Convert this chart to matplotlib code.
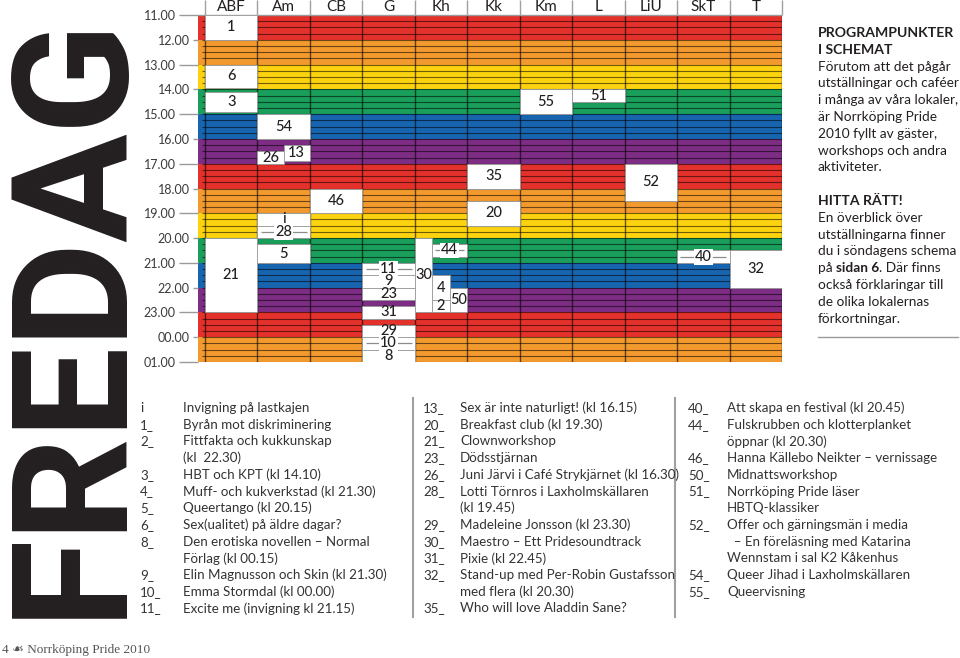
import matplotlib
matplotlib.use("Agg")
import matplotlib.pyplot as plt
import numpy as np

# ---------------- data ----------------
venues = ["ABF", "Am", "CB", "G", "Kh", "Kk", "Km", "L", "LiU", "SkT", "T"]
hour_ticks = list(range(11, 26))
hour_labels = ["11.00", "12.00", "13.00", "14.00", "15.00", "16.00", "17.00", "18.00",
               "19.00", "20.00", "21.00", "22.00", "23.00", "00.00", "01.00"]
band_hours = list(range(11, 25))
band_colors = ["#E4312B", "#F39A2E", "#FDD20E", "#1A9E5B", "#1765AF", "#7D2D84"]

ev_label = ["1", "6", "3", "54", "13", "26", "35", "52", "46", "20", "i", "28",
            "21", "5", "30", "44", "40", "32", "11", "9", "4", "2", "50", "23",
            "31", "29", "10", "8", "55", "51"]
ev_venue = ["ABF", "ABF", "ABF", "Am", "Am", "Am", "Kk", "LiU", "CB", "Kk", "Am", "Am",
            "ABF", "Am", "Kh", "Kh", "SkT", "T", "G", "G", "Kh", "Kh", "Kh", "G",
            "G", "G", "G", "G", "Km", "L"]
ev_sub0 = [0, 0, 0, 0, 0.5, 0, 0, 0, 0, 0, 0, 0,
           0, 0, 0, 1/3, 0, 0, 0, 0, 1/3, 1/3, 2/3, 0,
           0, 0, 0, 0, 0, 0]
ev_subw = [1, 1, 1, 1, 0.5, 0.5, 1, 1, 1, 1, 1, 1,
           1, 1, 1/3, 2/3, 1, 1, 1, 1, 1/3, 1/3, 1/3, 1,
           1, 1, 1, 1, 1, 1]
ev_start = [11.0, 13.0, 14.1, 15.0, 16.25, 16.5, 17.0, 17.0, 18.0, 18.5, 19.0, 19.5,
            20.0, 20.25, 20.0, 20.25, 20.5, 20.5, 21.0, 21.5, 21.5, 22.5, 22.0, 22.0,
            22.75, 23.5, 24.0, 24.5, 14.0, 14.0]
ev_end = [12.0, 13.95, 14.9, 16.0, 16.9, 17.0, 18.0, 18.5, 19.0, 19.5, 19.5, 20.0,
          23.0, 21.0, 23.0, 20.75, 21.0, 22.0, 21.5, 22.0, 22.5, 23.0, 23.0, 22.5,
          23.25, 24.0, 24.5, 25.0, 15.0, 14.5]
ev_midline = ["28", "44", "40", "11", "10"]

legend1 = [("i", "Invigning på lastkajen"), ("1_", "Byrån mot diskriminering"),
           ("2_", "Fittfakta och kukkunskap"), ("", "(kl  22.30)"),
           ("3_", "HBT och KPT (kl 14.10)"), ("4_", "Muff- och kukverkstad (kl 21.30)"),
           ("5_", "Queertango (kl 20.15)"), ("6_", "Sex(ualitet) på äldre dagar?"),
           ("8_", "Den erotiska novellen – Normal"), ("", "Förlag (kl 00.15)"),
           ("9_", "Elin Magnusson och Skin (kl 21.30)"), ("10_", "Emma Stormdal (kl 00.00)"),
           ("11_", "Excite me (invigning kl 21.15)")]
legend2 = [("13_", "Sex är inte naturligt! (kl 16.15)"), ("20_", "Breakfast club (kl 19.30)"),
           ("21_", "Clownworkshop"), ("23_", "Dödsstjärnan"),
           ("26_", "Juni Järvi i Café Strykjärnet (kl 16.30)"),
           ("28_", "Lotti Törnros i Laxholmskällaren"), ("", "(kl 19.45)"),
           ("29_", "Madeleine Jonsson (kl 23.30)"), ("30_", "Maestro – Ett Pridesoundtrack"),
           ("31_", "Pixie (kl 22.45)"), ("32_", "Stand-up med Per-Robin Gustafsson"),
           ("", "med flera (kl 20.30)"), ("35_", "Who will love Aladdin Sane?")]
legend3 = [("40_", "Att skapa en festival (kl 20.45)"), ("44_", "Fulskrubben och klotterplanket"),
           ("", "öppnar (kl 20.30)"), ("46_", "Hanna Källebo Neikter – vernissage"),
           ("50_", "Midnattsworkshop"), ("51_", "Norrköping Pride läser"),
           ("", "HBTQ-klassiker"), ("52_", "Offer och gärningsmän i media"),
           ("", "  – En föreläsning med Katarina"), ("", "Wennstam i sal K2 Kåkenhus"),
           ("54_", "Queer Jihad i Laxholmskällaren"), ("55_", "Queervisning")]

info1_head = ["PROGRAMPUNKTER", "I SCHEMAT"]
info1_body = ["Förutom att det pågår", "utställningar och caféer", "i många av våra lokaler,",
              "är Norrköping Pride", "2010 fyllt av gäster,", "workshops och andra", "aktiviteter."]
info2_head = ["HITTA RÄTT!"]
info2_body = ["En överblick över", "utställningarna finner", "du i söndagens schema",
              ("på ", "sidan 6", ". Där finns"), "också förklaringar till", "de olika lokalernas",
              "förkortningar."]

title = "FREDAG"
footer = "4 \u2619 Norrköping Pride 2010"

# ---------------- figure ----------------
W, H = 960, 658
fig = plt.figure(figsize=(W / 100, H / 100), dpi=100)
fig.patch.set_facecolor("white")
FONT = "Lato"
INK = "#231F20"
renderer = fig.canvas.get_renderer()


def fx(px):
    return px / W


def fy(py):
    return 1 - py / H


strip = 7 / 52.45
ax = fig.add_axes([fx(198), fy(362), fx(782) - fx(198), fy(15) - fy(362)])
ax.set_xlim(-strip, len(venues))
ax.set_ylim(25, 11)
for s in ax.spines.values():
    s.set_visible(False)

# rainbow bands
for i, h in enumerate(band_hours):
    ax.barh(h, len(venues) + strip, left=-strip, height=1, align="edge",
            color=band_colors[i % len(band_colors)], zorder=0, linewidth=0)

# grid lines
quarters = np.arange(11.25, 25.01, 0.25)
ax.hlines(quarters, -0.06, len(venues), color="#000000", alpha=0.55, lw=0.8, zorder=1)
ax.vlines(np.arange(0, len(venues) + 1), 11, 25, color="#000000", alpha=0.6, lw=1.0, zorder=1)
ax.hlines([11], -strip, len(venues), color="#9a9a9a", lw=1.0, zorder=1, clip_on=False)
# header separators
ax.vlines(np.arange(0, len(venues) + 1), 10.4, 11, color="#a0a0a0", lw=1.0, clip_on=False)

# events
for lab, ven, s0, sw, st, en in zip(ev_label, ev_venue, ev_sub0, ev_subw, ev_start, ev_end):
    x0 = venues.index(ven) + s0
    ax.bar(x0, en - st, bottom=st, width=sw, align="edge", color="white",
           edgecolor="#9a9a9a", linewidth=0.6, zorder=2)
    mid = (st + en) / 2
    kw = dict(ha="center", va="center", fontsize=10.5, family=FONT,
              weight="medium", color=INK, zorder=4)
    if lab in ev_midline:
        ax.hlines(mid, x0 + 0.06, x0 + sw - 0.06, color="#8c8c8c", lw=0.9, zorder=3)
        ax.text(x0 + sw / 2, mid, lab, bbox=dict(facecolor="white", edgecolor="none", pad=0.6), **kw)
    else:
        ax.text(x0 + sw / 2, mid, lab, **kw)

# axis ticks
ax.set_xticks(np.arange(len(venues)) + 0.5)
ax.set_xticklabels(venues, family=FONT, fontsize=11, color=INK)
ax.xaxis.tick_top()
ax.tick_params(axis="x", length=0, pad=1.0)
ax.set_yticks(hour_ticks[0::2])
ax.set_yticklabels(hour_labels[0::2], family=FONT, fontsize=9, color="#3a3a3a")
ax.set_yticks(hour_ticks[1::2], minor=True)
ax.set_yticklabels(hour_labels[1::2], minor=True, family=FONT, fontsize=9, color="#3a3a3a")
ax.tick_params(axis="y", which="major", length=14, width=1, color="#9a9a9a", pad=2.2)
ax.tick_params(axis="y", which="minor", length=3.8, width=1, color="#9a9a9a", pad=2.2)

# big title (size fitted to the reference length)
t_obj = fig.text(fx(118), fy(618), title, rotation=90, rotation_mode="anchor", ha="left",
                 va="baseline", fontsize=100, family="Roboto", weight="bold", color=INK)
L0 = t_obj.get_window_extent(renderer=renderer).height
t_obj.set_fontsize(100 * 606 / L0)

# info panel
FS = 9.8
y = 33
for t in info1_head:
    fig.text(fx(818), fy(y), t, fontsize=10.1, family=FONT, weight="bold", color=INK, va="center")
    y += 16.8
for t in info1_body:
    fig.text(fx(818), fy(y), t, fontsize=FS, family=FONT, color=INK, va="center")
    y += 16.8
y = 201
for t in info2_head:
    fig.text(fx(818), fy(y), t, fontsize=10.1, family=FONT, weight="bold", color=INK, va="center")
    y += 16.8
for t in info2_body:
    if isinstance(t, tuple):
        xpos = 818
        for k, part in enumerate(t):
            tx = fig.text(fx(xpos), fy(y), part, fontsize=FS, family=FONT,
                          weight="bold" if k == 1 else "normal", color=INK, va="center")
            bb = tx.get_window_extent(renderer=renderer)
            xpos += bb.width
    else:
        fig.text(fx(818), fy(y), t, fontsize=FS, family=FONT, color=INK, va="center")
    y += 16.8
fig.add_artist(plt.Line2D([fx(818), fx(958)], [fy(337), fy(337)], color="#9a9a9a", lw=1.0))

# legends
for items, xn, xt in [(legend1, 140, 183), (legend2, 423, 460), (legend3, 688, 727)]:
    for i, (num, txt) in enumerate(items):
        yy = 408 + 16.7 * i
        if num:
            fig.text(fx(xn), fy(yy), num, fontsize=9.6, family=FONT, color="#333333", va="center")
        fig.text(fx(xt), fy(yy), txt, fontsize=9.6, family=FONT, color="#333333", va="center")
for xs in (413, 675):
    fig.add_artist(plt.Line2D([fx(xs), fx(xs)], [fy(398), fy(617)], color="#a0a0a0", lw=1.5))

# footer
fig.text(fx(2), fy(650), footer, fontsize=9.5, family=["Liberation Serif", "DejaVu Sans"],
         color="#555555", va="center")

fig.savefig("out.png", dpi=100, facecolor="white")
